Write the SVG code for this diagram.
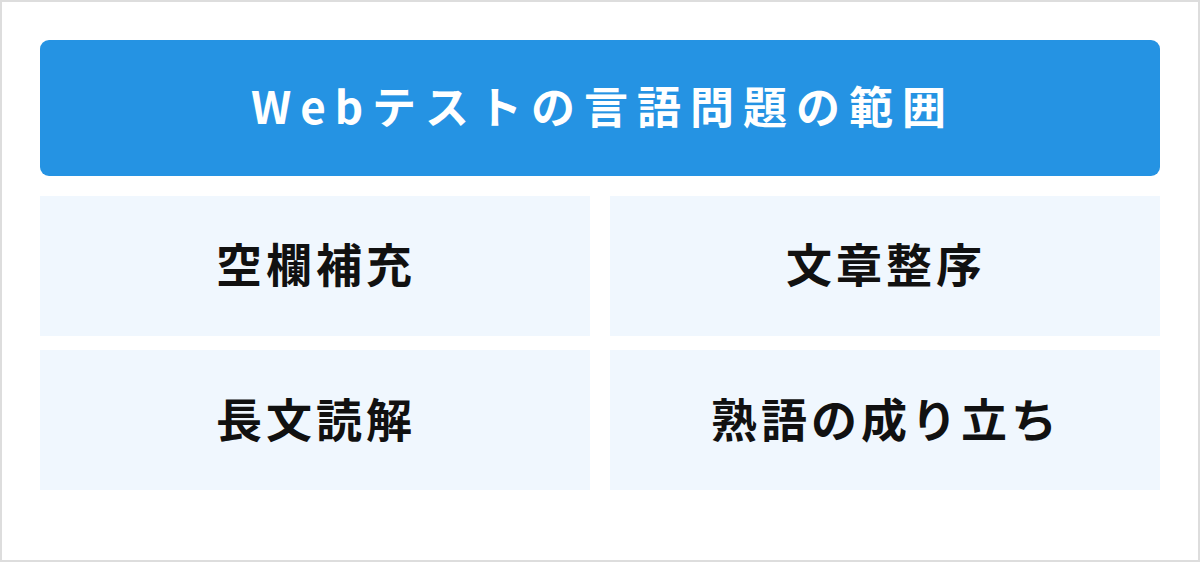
<svg xmlns="http://www.w3.org/2000/svg" width="1200" height="562" viewBox="0 0 1200 562">
<style>
.t{font-family:"Noto Sans CJK JP","Noto Sans",sans-serif;font-weight:700;text-anchor:middle}
.h{fill:#ffffff;font-size:44px;letter-spacing:9px}
.c{fill:#111111;font-size:46px;letter-spacing:4px}
.cell{fill:#f0f7fe}
</style>
<rect x="1" y="1" width="1198" height="560" fill="#ffffff" stroke="#dddddd" stroke-width="2"/>
<g id="header">
<rect x="40" y="40" width="1120" height="136" rx="9" fill="#2593e3"/>
<text class="t h" x="603" y="124">Webテストの言語問題の範囲</text>
</g>
<g id="node-kuuran">
<rect class="cell" x="40" y="196" width="550" height="140"/>
<text class="t c" x="316" y="282">空欄補充</text>
</g>
<g id="node-bunshou">
<rect class="cell" x="610" y="196" width="550" height="140"/>
<text class="t c" x="886" y="282">文章整序</text>
</g>
<g id="node-choubun">
<rect class="cell" x="40" y="350" width="550" height="140"/>
<text class="t c" x="316" y="437">長文読解</text>
</g>
<g id="node-jukugo">
<rect class="cell" x="610" y="350" width="550" height="140"/>
<text class="t c" x="886" y="437">熟語の成り立ち</text>
</g>
<g id="connectors"></g>
</svg>
